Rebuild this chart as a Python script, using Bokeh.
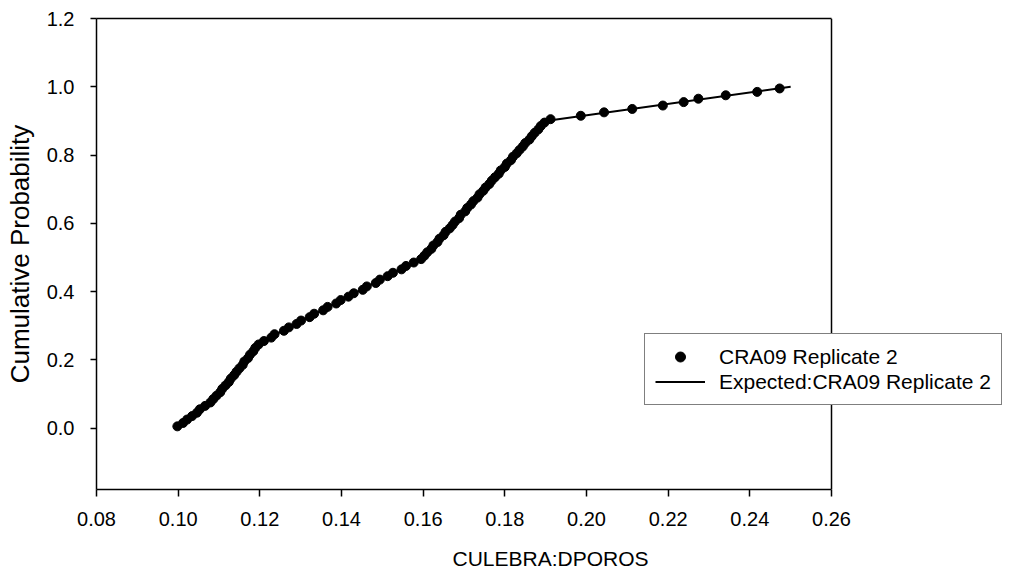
from bokeh.plotting import figure
from bokeh.models import (Range1d, FixedTicker, PrintfTickFormatter, Legend, LegendItem,
                          LinearAxis, Span)
from bokeh.embed import file_html
from bokeh.resources import INLINE

# Observed sample values (CULEBRA:DPOROS), sorted
obs_x = [0.0998, 0.1012, 0.1022, 0.1034, 0.1046, 0.1053, 0.1066, 0.1079, 0.1086, 0.1094,
         0.1103, 0.1108, 0.1116, 0.1124, 0.1129, 0.1137, 0.1143, 0.1150, 0.1158, 0.1162,
         0.1171, 0.1176, 0.1184, 0.1189, 0.1197, 0.1210, 0.1228, 0.1236, 0.1259, 0.1271,
         0.1290, 0.1301, 0.1322, 0.1333, 0.1355, 0.1366, 0.1387, 0.1398, 0.1417, 0.1430,
         0.1452, 0.1462, 0.1484, 0.1494, 0.1513, 0.1526, 0.1547, 0.1558, 0.1577, 0.1595,
         0.1603, 0.1610, 0.1620, 0.1625, 0.1635, 0.1640, 0.1650, 0.1655, 0.1665, 0.1672,
         0.1678, 0.1688, 0.1692, 0.1703, 0.1708, 0.1717, 0.1723, 0.1733, 0.1738, 0.1747,
         0.1753, 0.1762, 0.1768, 0.1776, 0.1785, 0.1790, 0.1800, 0.1805, 0.1815, 0.1820,
         0.1829, 0.1836, 0.1844, 0.1850, 0.1860, 0.1866, 0.1873, 0.1882, 0.1888, 0.1897,
         0.1912, 0.1986, 0.2043, 0.2112, 0.2187, 0.2238, 0.2274, 0.2341, 0.2418, 0.2473]
# Cumulative probabilities of the observed values
obs_p = [0.005, 0.015, 0.025, 0.035, 0.045, 0.055, 0.065, 0.075, 0.085, 0.095,
         0.105, 0.115, 0.125, 0.135, 0.145, 0.155, 0.165, 0.175, 0.185, 0.195,
         0.205, 0.215, 0.225, 0.235, 0.245, 0.255, 0.265, 0.275, 0.285, 0.295,
         0.305, 0.315, 0.325, 0.335, 0.345, 0.355, 0.365, 0.375, 0.385, 0.395,
         0.405, 0.415, 0.425, 0.435, 0.445, 0.455, 0.465, 0.475, 0.485, 0.495,
         0.505, 0.515, 0.525, 0.535, 0.545, 0.555, 0.565, 0.575, 0.585, 0.595,
         0.605, 0.615, 0.625, 0.635, 0.645, 0.655, 0.665, 0.675, 0.685, 0.695,
         0.705, 0.715, 0.725, 0.735, 0.745, 0.755, 0.765, 0.775, 0.785, 0.795,
         0.805, 0.815, 0.825, 0.835, 0.845, 0.855, 0.865, 0.875, 0.885, 0.895,
         0.905, 0.915, 0.925, 0.935, 0.945, 0.955, 0.965, 0.975, 0.985, 0.995]

# Expected (input) CDF
exp_x = [0.10, 0.11, 0.12, 0.16, 0.19, 0.25]
exp_p = [0.00, 0.10, 0.25, 0.50, 0.90, 1.00]

x_ticks = [0.08, 0.10, 0.12, 0.14, 0.16, 0.18, 0.20, 0.22, 0.24, 0.26]
y_ticks = [0.0, 0.2, 0.4, 0.6, 0.8, 1.0, 1.2]

X_MIN, X_MAX = 0.08, 0.26
Y_MIN, Y_MAX = -0.18, 1.2

FONT = "Liberation Sans"

# The drawing frame is widened past 0.26 so the legend can overhang the box;
# the visible box ends at 0.26.
AXIS_W = 735
FRAME_W = 908
x_end = X_MIN + (X_MAX - X_MIN) * FRAME_W / AXIS_W

p = figure(width=1004, height=574, output_backend="svg", toolbar_location=None,
           x_range=Range1d(X_MIN, x_end), y_range=Range1d(Y_MIN, Y_MAX),
           min_border_left=96, min_border_top=18, min_border_right=0, min_border_bottom=85)

p.xgrid.visible = False
p.ygrid.visible = False
p.outline_line_color = None
p.background_fill_color = "white"
p.border_fill_color = "white"

ln = p.line(exp_x, exp_p, line_color="black", line_width=2)
sc = p.scatter(obs_x, obs_p, size=9, fill_color="black", line_color="black")

xa = p.below[0]
ya = p.left[0]

top_axis = LinearAxis(bounds=(X_MIN, X_MAX), ticker=FixedTicker(ticks=[]),
                      major_label_text_font_size="0px", major_tick_line_color=None,
                      minor_tick_line_color=None, axis_line_color="black", axis_line_width=1.5)
p.add_layout(top_axis, "above")

right_edge = Span(location=X_MAX, dimension="height", line_color="black", line_width=1.5)
p.add_layout(right_edge)

for ax in (xa, ya):
    ax.axis_line_color = "black"
    ax.axis_line_width = 1.5
    ax.major_tick_line_color = "black"
    ax.major_tick_line_width = 1.5
    ax.major_tick_in = 0
    ax.minor_tick_line_color = None
    ax.major_label_text_font = FONT
    ax.major_label_text_color = "black"
    ax.major_label_text_font_size = "20px"
    ax.axis_label_text_font = FONT
    ax.axis_label_text_font_style = "normal"
    ax.axis_label_text_color = "black"

xa.bounds = (X_MIN, X_MAX)
xa.ticker = FixedTicker(ticks=x_ticks)
xa.formatter = PrintfTickFormatter(format="%.2f")
xa.major_tick_out = 7
xa.major_label_standoff = 15
xa.axis_label = "CULEBRA:DPOROS"
xa.axis_label_text_font_size = "21px"
xa.axis_label_standoff = 18

ya.ticker = FixedTicker(ticks=y_ticks)
ya.formatter = PrintfTickFormatter(format="%.1f")
ya.major_tick_out = 6
ya.major_label_standoff = 16
ya.axis_label = "Cumulative Probability"
ya.axis_label_text_font_size = "26px"
ya.axis_label_standoff = 9

legend = Legend(items=[LegendItem(label="CRA09 Replicate 2", renderers=[sc]),
                       LegendItem(label="Expected:CRA09 Replicate 2", renderers=[ln])],
                location=(548, 84), orientation="vertical")
legend.label_text_font = FONT
legend.label_text_font_size = "21px"
legend.label_text_color = "black"
legend.glyph_width = 50
legend.glyph_height = 25
legend.label_height = 25
legend.label_standoff = 14
legend.spacing = 0
legend.padding = 10
legend.margin = 0
legend.border_line_color = "black"
legend.border_line_width = 1.5
legend.background_fill_color = "white"
legend.background_fill_alpha = 1.0
p.add_layout(legend, "center")

open("out.html", "w").write(file_html(p, INLINE))
